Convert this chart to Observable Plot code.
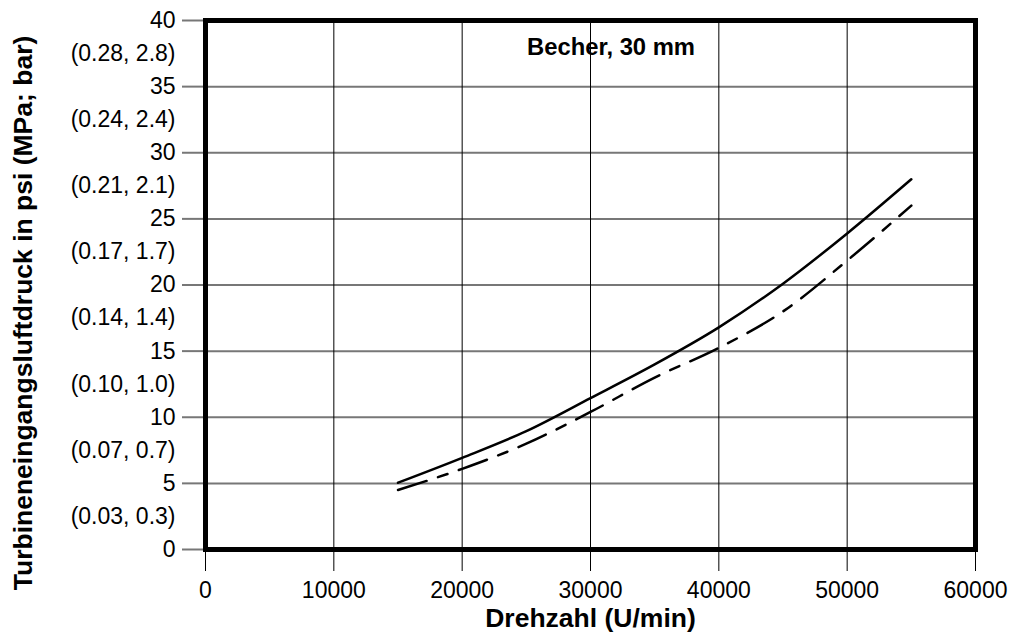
<!DOCTYPE html>
<html>
<head>
<meta charset="utf-8">
<script src="https://cdn.jsdelivr.net/npm/d3@7"></script>
<script src="https://cdn.jsdelivr.net/npm/@observablehq/plot@0.6"></script>
<style>
  html, body { margin: 0; padding: 0; background: #fff; }
  svg { font-family: "Liberation Sans", Arial, sans-serif; }
</style>
</head>
<body>
<div id="chart"></div>
<script>
// Solid curve
const solidX = [15000, 20000, 25000, 30000, 35000, 40000, 45000, 50000, 55000];
const solidY = [5.05, 6.93, 8.95, 11.45, 14.0, 16.8, 20.1, 23.9, 28.0];
// Dashed curve
const dashX = [15000, 20000, 25000, 30000, 35000, 40000, 45000, 50000, 55000];
const dashY = [4.5, 6.1, 8.0, 10.4, 13.0, 15.25, 18.0, 21.85, 26.0];

const xTicks = [0, 10000, 20000, 30000, 40000, 50000, 60000];
const yTicks = [0, 5, 10, 15, 20, 25, 30, 35, 40];
const ySecondaryAt = [40, 35, 30, 25, 20, 15, 10, 5];
const ySecondaryLabels = ["(0.28, 2.8)", "(0.24, 2.4)", "(0.21, 2.1)", "(0.17, 1.7)", "(0.14, 1.4)", "(0.10, 1.0)", "(0.07, 0.7)", "(0.03, 0.3)"];

const title = "Becher, 30 mm";
const xTitle = "Drehzahl (U/min)";
const yTitle = "Turbineneingangsluftdruck in psi (MPa; bar)";

const solid = solidX.map((x, i) => ({x, y: solidY[i]}));
const dashed = dashX.map((x, i) => ({x, y: dashY[i]}));
const secondary = ySecondaryAt.map((v, i) => ({y: v - 2.5, label: ySecondaryLabels[i]}));

const chart = Plot.plot({
  width: 1009,
  height: 633,
  marginLeft: 205,
  marginRight: 34,
  marginTop: 20,
  marginBottom: 84,
  style: {fontFamily: "'Liberation Sans', Arial, sans-serif", color: "#000", background: "#fff"},
  x: {domain: [0, 60000]},
  y: {domain: [0, 40]},
  marks: [
    Plot.gridY(yTicks, {stroke: "#777", strokeOpacity: 1, strokeWidth: 2}),
    Plot.gridX(xTicks, {stroke: "#000", strokeOpacity: 1, strokeWidth: 1}),
    Plot.axisY(yTicks, {tickSize: 23, tickPadding: 7, stroke: "#777", strokeWidth: 2, fontSize: 23, fill: "#000", tickFormat: d => String(d), label: null}),
    Plot.axisX(xTicks, {tickSize: 22, tickPadding: 10, stroke: "#000", strokeWidth: 1, fontSize: 23, fill: "#000", tickFormat: d => String(d), label: null}),
    Plot.text(secondary, {x: () => 0, y: "y", text: "label", dx: -30, textAnchor: "end", fontSize: 23, fill: "#000"}),
    Plot.line(solid, {x: "x", y: "y", stroke: "#000", strokeWidth: 2.5, curve: "monotone-x"}),
    Plot.line(dashed, {x: "x", y: "y", stroke: "#000", strokeWidth: 2.5, curve: "monotone-x", strokeDasharray: "30,12,10,12"}),
    Plot.frame({stroke: "#000", strokeWidth: 5}),
    Plot.text([title], {x: () => 31600, y: () => 38.0, fontWeight: "bold", fontSize: 23.8, fill: "#000"}),
    Plot.text([xTitle], {frameAnchor: "bottom", dy: 69, lineAnchor: "middle", textAnchor: "middle", fontWeight: "bold", fontSize: 26.5, fill: "#000"}),
    Plot.text([yTitle], {frameAnchor: "left", dx: -182, dy: 28, rotate: -90, textAnchor: "middle", lineAnchor: "middle", fontWeight: "bold", fontSize: 26.5, fill: "#000"})
  ]
});
document.getElementById("chart").appendChild(chart);
</script>
</body>
</html>
